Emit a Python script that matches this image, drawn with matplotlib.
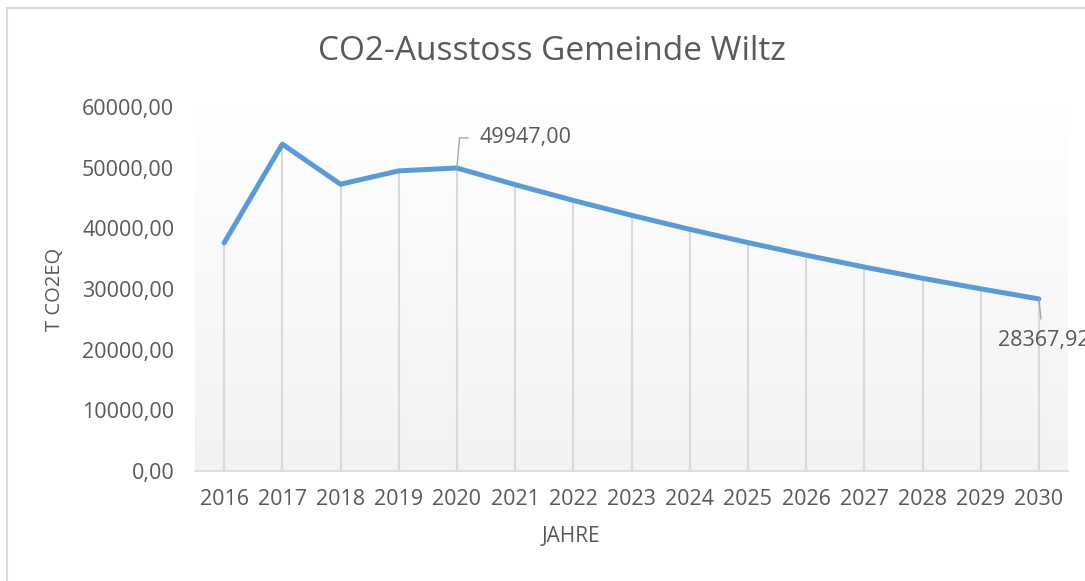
import numpy as np
import matplotlib
matplotlib.use("Agg")
import matplotlib.pyplot as plt
from matplotlib.patches import Rectangle

plt.rcParams['font.family'] = ['Open Sans', 'DejaVu Sans']

# data
jahre = [2016, 2017, 2018, 2019, 2020, 2021, 2022, 2023,
         2024, 2025, 2026, 2027, 2028, 2029, 2030]
co2 = [37600, 53880, 47270, 49470, 49947.00, 47200, 44600, 42150,
       39840, 37650, 35580, 33620, 31770, 30030, 28367.92]
yticks = [0, 10000, 20000, 30000, 40000, 50000, 60000]

grau = '#595959'
W, H = 1085, 581

fig = plt.figure(figsize=(W / 100, H / 100), dpi=100)
ax = fig.add_axes([195 / W, 1 - 471 / H, (1068 - 195) / W, (471 - 107) / H])

x = np.arange(len(jahre))
ax.set_xlim(-0.5, len(jahre) - 0.5)
ax.set_ylim(0, 60000)

# plot area with gradient fill (white top -> light gray bottom)
cmap = matplotlib.colors.LinearSegmentedColormap.from_list('g', ['#ffffff', '#f2f2f2'])
grad = np.linspace(0, 1, 256).reshape(-1, 1)
ax.imshow(grad, aspect='auto', cmap=cmap, extent=[0, 1, 0, 1],
          transform=ax.transAxes, zorder=0, origin='upper', vmin=0, vmax=1)

# drop lines + line
ax.vlines(x, 0, co2, color='#d9d9d9', lw=1.5, zorder=1)
ax.plot(x, co2, color='#5b9bd5', lw=3.6, solid_capstyle='round',
        solid_joinstyle='round', zorder=3)

for s in ['top', 'left', 'right']:
    ax.spines[s].set_visible(False)
ax.spines['bottom'].set_color('#d9d9d9')
ax.spines['bottom'].set_linewidth(1.2)

ax.set_xticks(x)
ax.set_xticklabels([str(j) for j in jahre])
ax.set_yticks(yticks)
ax.set_yticklabels([f'{v:.2f}'.replace('.', ',') for v in yticks])
ax.tick_params(axis='both', length=0, labelsize=15.5, labelcolor=grau)
ax.tick_params(axis='y', pad=15)
ax.tick_params(axis='x', pad=13)

# data labels
i = jahre.index(2020)
ax.annotate(f'{co2[i]:.2f}'.replace('.', ','), xy=(x[i], co2[i]),
            xytext=(x[i] + 0.38, 54900), fontsize=15.5, color=grau,
            va='center', ha='left',
            arrowprops=dict(arrowstyle='-', color='#a6a6a6', lw=1,
                            connectionstyle='angle,angleA=0,angleB=85,rad=0',
                            shrinkA=6, shrinkB=0))
i = jahre.index(2030)
ax.annotate(f'{co2[i]:.2f}'.replace('.', ','), xy=(x[i], co2[i]),
            xytext=(x[i] - 0.70, 21500), fontsize=15.5, color=grau,
            va='center', ha='left', annotation_clip=False,
            arrowprops=dict(arrowstyle='-', color='#a6a6a6', lw=1,
                            shrinkA=6, shrinkB=0, relpos=(0.48, 1.0)))

fig.text(552 / W, 1 - 52 / H, 'CO2-Ausstoss Gemeinde Wiltz', fontsize=24,
         color=grau, ha='center', va='center')
fig.text(571 / W, 1 - 537 / H, 'JAHRE', fontsize=15, color=grau,
         ha='center', va='center')
fig.text(55 / W, 1 - 289 / H, 'T CO2EQ', fontsize=14.5, color=grau,
         ha='center', va='center', rotation=90)

# chart border (runs off right and bottom edges)
fig.patches.append(Rectangle((7 / W, -0.1), 1.2, 1.1 - 8 / H,
                             transform=fig.transFigure, fill=False,
                             edgecolor='#d9d9d9', lw=1.5))

fig.savefig('out.png', dpi=100)
